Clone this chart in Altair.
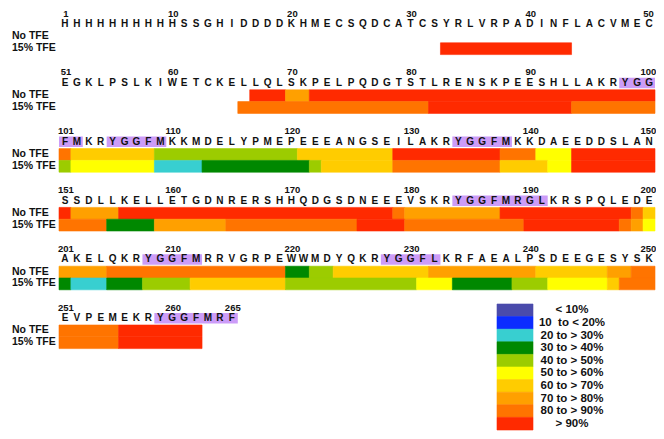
import altair as alt
import pandas as pd

# ---------------- data ----------------
SEQUENCE = ("HHHHHHHHHHSSGHIDDDDKHMECSQDCATCSYRLVRPADINFLACVMEC"
            "EGKLPSLKIWETCKELLQLSKPELPQDGTSTLRENSKPEESHLLAKRYGG"
            "FMKRYGGFMKKMDELYPMEPEEEANGSEILAKRYGGFMKKDAEEDDSLAN"
            "SSDLLKELLETGDNRERSHHQDGSDNEEEVSKRYGGFMRGLKRSPQLEDE"
            "AKELQKRYGGFMRRVGRPEWWMDYQKRYGGFLKRFAEALPSDEEGESYSK"
            "EVPEMEKRYGGFMRF")
assert len(SEQUENCE) == 265

HIGHLIGHT_RANGES = [(98, 102), (105, 109), (134, 138), (184, 191),
                    (208, 212), (228, 232), (259, 265)]

ROW_NUMBERS = [1, 10, 20, 30, 40, 50,
               51, 60, 70, 80, 90, 100,
               101, 110, 120, 130, 140, 150,
               151, 160, 170, 180, 190, 200,
               201, 210, 220, 230, 240, 250,
               251, 260, 265]

LEVEL_LABELS = ["< 10%", "10\u00a0 to < 20%", "20 to > 30%", "30 to > 40%",
                "40 to > 50%", "50 to > 60%", "60 to > 70%", "70 to > 80%",
                "80 to > 90%", "> 90%"]
LEVEL_COLORS = ["#4a4bab", "#0c2cff", "#38cfd0", "#008800", "#9ccc00",
                "#ffff00", "#ffcc00", "#ffa000", "#ff7400", "#ff2a00"]

CONDITIONS = ["No TFE", "15% TFE"]

# (first residue, last residue, level index)
NO_TFE = [(67, 69, 9), (70, 71, 7), (72, 100, 9),
          (101, 101, 8), (102, 108, 6), (109, 120, 4), (121, 128, 6),
          (129, 137, 9), (138, 140, 8), (141, 143, 5), (144, 150, 9),
          (151, 151, 9), (152, 155, 7), (156, 178, 9), (179, 179, 8),
          (180, 187, 7), (188, 198, 9), (199, 199, 8), (200, 200, 6),
          (201, 204, 7), (205, 219, 8), (220, 221, 3), (222, 223, 4),
          (224, 231, 6), (232, 240, 7), (241, 246, 6), (247, 248, 7),
          (249, 250, 8),
          (251, 255, 8), (256, 262, 9)]

TFE_15 = [(33, 43, 9),
          (66, 81, 8), (82, 93, 9), (94, 100, 8),
          (101, 101, 4), (102, 108, 5), (109, 112, 2), (113, 121, 3),
          (122, 122, 4), (123, 128, 6), (129, 137, 8), (138, 141, 6),
          (142, 143, 5), (144, 150, 9),
          (151, 154, 8), (155, 158, 3), (159, 164, 7), (165, 175, 8),
          (176, 179, 9), (180, 189, 8), (190, 197, 9), (198, 198, 8),
          (199, 199, 7), (200, 200, 5),
          (201, 201, 3), (202, 204, 2), (205, 207, 3), (208, 211, 4),
          (212, 219, 6), (220, 230, 4), (231, 233, 5), (234, 238, 3),
          (239, 241, 4), (242, 246, 5), (247, 247, 6), (248, 250, 8),
          (251, 255, 8), (256, 262, 9)]

# ---------------- layout ----------------
W, H = 648, 423
PER_ROW = 50
COL_W = 11.92
X_LEFT = 51.0
X0 = -X_LEFT / COL_W
X1 = X0 + W / COL_W
ROW_TOP0 = 23.0
ROW_PITCH = 58.8
BAR_H = 11.8


def row_top(r):
    return ROW_TOP0 + ROW_PITCH * r


def pos(res):
    return (res - 1) // PER_ROW, (res - 1) % PER_ROW


def split_rows(a, b):
    """Split a residue range into pieces that stay within one line."""
    pieces = []
    s = a
    while s <= b:
        r, k0 = pos(s)
        e = min(b, (r + 1) * PER_ROW)
        pieces.append((r, k0, pos(e)[1] + 1))
        s = e + 1
    return pieces


# bars
bar_rows = []
for ci, segs in enumerate([NO_TFE, TFE_15]):
    for a, b, lev in segs:
        for r, k0, k1 in split_rows(a, b):
            y = row_top(r) + ci * BAR_H
            bar_rows.append(dict(x=k0, x2=k1, y=y, y2=y + BAR_H,
                                 level=LEVEL_LABELS[lev], cond=CONDITIONS[ci]))
bars_df = pd.DataFrame(bar_rows)

# highlight boxes
hl_rows = []
for a, b in HIGHLIGHT_RANGES:
    for r, k0, k1 in split_rows(a, b):
        hl_rows.append(dict(x=k0, x2=k1, y=row_top(r) - 12, y2=row_top(r) - 1.5))
hl_df = pd.DataFrame(hl_rows)

# residue letters
let_rows = []
for i, ch in enumerate(SEQUENCE):
    r, k = pos(i + 1)
    let_rows.append(dict(x=k + 0.5, y=row_top(r) - 6.8, text=ch))
let_df = pd.DataFrame(let_rows)

# residue numbers
num_rows = []
for n in ROW_NUMBERS:
    r, k = pos(n)
    shift = 0.08 if k < PER_ROW - 1 else -0.05
    num_rows.append(dict(x=k + 0.5 + shift, y=row_top(r) - 17.5, text=str(n)))
num_df = pd.DataFrame(num_rows)

# row labels
n_rows = (len(SEQUENCE) - 1) // PER_ROW + 1
lab_rows = []
for r in range(n_rows):
    for ci, c in enumerate(CONDITIONS):
        lab_rows.append(dict(y=row_top(r) + ci * BAR_H + BAR_H / 2 - 0.5, text=c))
lab_df = pd.DataFrame(lab_rows)

# legend
LEG_TOP = 296.0
LEG_H = 12.6
leg_rows = []
for i, lab in enumerate(LEVEL_LABELS):
    leg_rows.append(dict(y=LEG_TOP + i * LEG_H, y2=LEG_TOP + (i + 1) * LEG_H,
                         yc=LEG_TOP + (i + 0.5) * LEG_H, level=lab, text=lab))
leg_df = pd.DataFrame(leg_rows)

# ---------------- chart ----------------
xs = alt.Scale(domain=[X0, X1], nice=False, zero=False)
ys = alt.Scale(domain=[0, H], reverse=True, nice=False, zero=False)
cs = alt.Scale(domain=LEVEL_LABELS, range=LEVEL_COLORS)
FONT = "Liberation Sans"

hl = alt.Chart(hl_df).mark_rect(color="#cc9cf8").encode(
    x=alt.X("x:Q", scale=xs, axis=None), x2="x2:Q",
    y=alt.Y("y:Q", scale=ys, axis=None), y2="y2:Q")

bars = alt.Chart(bars_df).mark_rect(strokeWidth=0.6).encode(
    x=alt.X("x:Q", scale=xs, axis=None), x2="x2:Q",
    y=alt.Y("y:Q", scale=ys, axis=None), y2="y2:Q",
    color=alt.Color("level:N", scale=cs, legend=None),
    stroke=alt.Stroke("level:N", scale=cs, legend=None))

letters = alt.Chart(let_df).mark_text(font=FONT, fontSize=10, fontWeight="bold",
                                      align="center", baseline="middle",
                                      color="#111111").encode(
    x=alt.X("x:Q", scale=xs, axis=None),
    y=alt.Y("y:Q", scale=ys, axis=None), text="text:N")

nums = alt.Chart(num_df).mark_text(font=FONT, fontSize=9.5, fontWeight="bold",
                                   align="center", baseline="middle",
                                   color="#111111").encode(
    x=alt.X("x:Q", scale=xs, axis=None),
    y=alt.Y("y:Q", scale=ys, axis=None), text="text:N")

labels = alt.Chart(lab_df).mark_text(font=FONT, fontSize=10.5, fontWeight="bold",
                                     align="left", baseline="middle",
                                     color="#111111").encode(
    x=alt.value(4),
    y=alt.Y("y:Q", scale=ys, axis=None), text="text:N")

leg_boxes = alt.Chart(leg_df).mark_rect(strokeWidth=0.6).encode(
    x=alt.value(489), x2=alt.value(525),
    y=alt.Y("y:Q", scale=ys, axis=None), y2="y2:Q",
    color=alt.Color("level:N", scale=cs, legend=None),
    stroke=alt.Stroke("level:N", scale=cs, legend=None))

leg_text = alt.Chart(leg_df).mark_text(font=FONT, fontSize=11.5, fontWeight="bold",
                                       align="center", baseline="middle",
                                       color="#111111").encode(
    x=alt.value(564),
    y=alt.Y("yc:Q", scale=ys, axis=None), text="text:N")

chart = alt.layer(hl, bars, letters, nums, labels, leg_boxes, leg_text).properties(
    width=W, height=H, padding=0, autosize="none"
).configure_view(stroke=None)

chart.save("out.html", embed_options={"renderer": "svg", "actions": False})
